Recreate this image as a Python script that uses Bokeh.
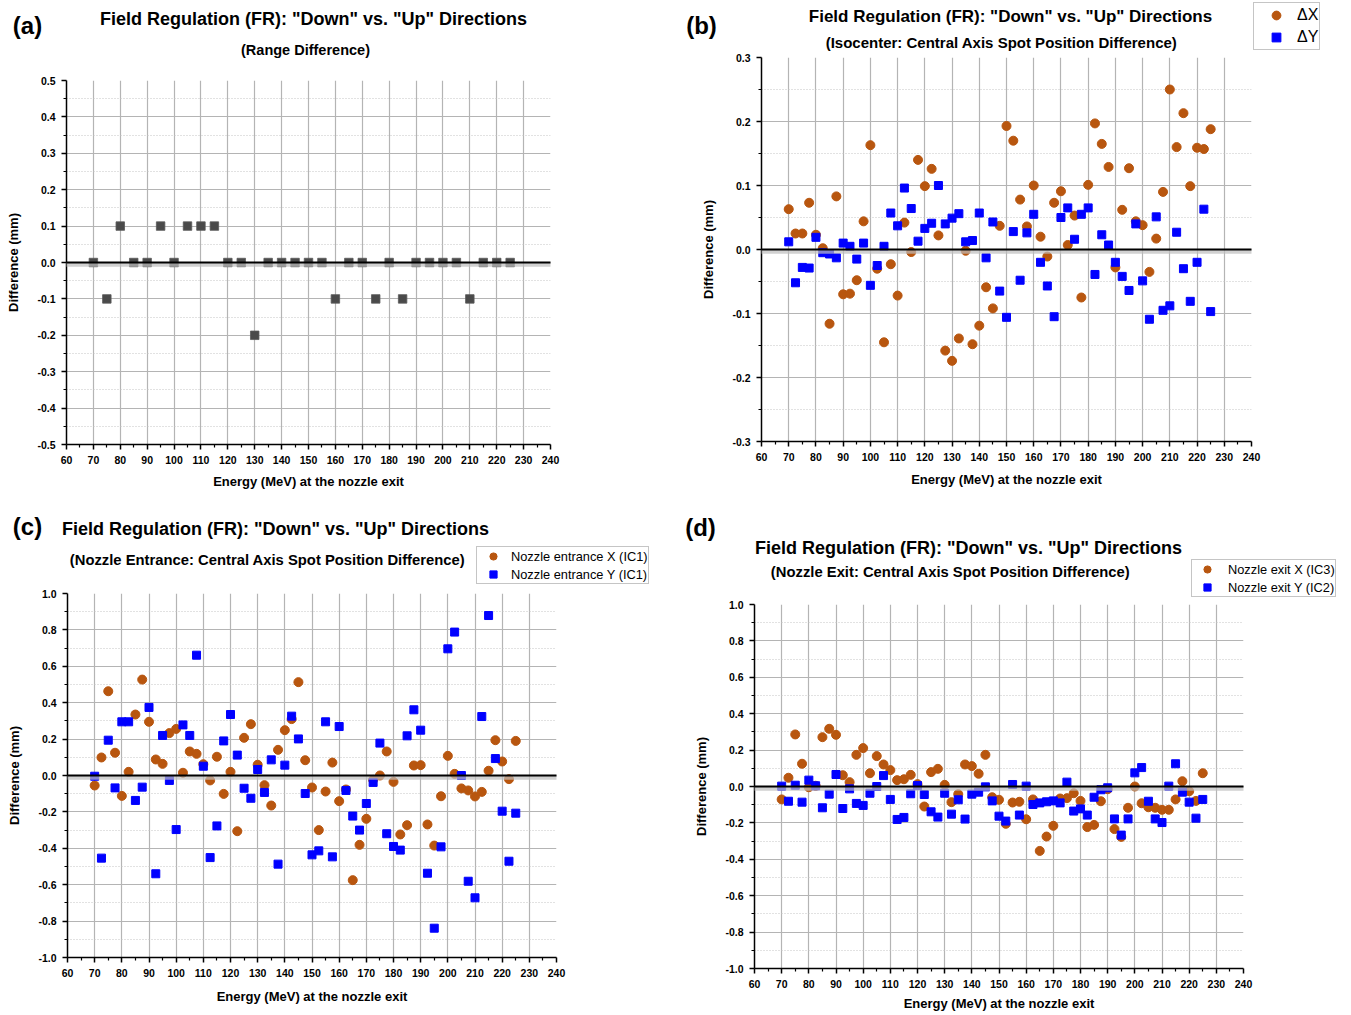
from bokeh.plotting import figure
from bokeh.layouts import column, row
from bokeh.models import (FixedTicker, PrintfTickFormatter, Label, Legend, LegendItem,
                          Arrow, Range1d, ColumnDataSource)
from bokeh.embed import file_html
from bokeh.resources import INLINE

# ---------------- data ----------------
range_energy = [70, 75, 80, 85, 90, 95, 100, 105, 110, 115, 120, 125, 130, 135, 140, 145,
                150, 155, 160, 165, 170, 175, 180, 185, 190, 195, 200, 205, 210, 215, 220, 225]
range_diff = [0.0, -0.1, 0.1, 0.0, 0.0, 0.1, 0.0, 0.1, 0.1, 0.1, 0.0, 0.0, -0.2, 0.0, 0.0, 0.0,
              0.0, 0.0, -0.1, 0.0, 0.0, -0.1, 0.0, -0.1, 0.0, 0.0, 0.0, 0.0, -0.1, 0.0, 0.0, 0.0]

energy = [70, 72.5, 75, 77.5, 80, 82.5, 85, 87.5, 90, 92.5, 95, 97.5, 100, 102.5, 105, 107.5,
          110, 112.5, 115, 117.5, 120, 122.5, 125, 127.5, 130, 132.5, 135, 137.5, 140, 142.5,
          145, 147.5, 150, 152.5, 155, 157.5, 160, 162.5, 165, 167.5, 170, 172.5, 175, 177.5,
          180, 182.5, 185, 187.5, 190, 192.5, 195, 197.5, 200, 202.5, 205, 207.5, 210, 212.5,
          215, 217.5, 220, 222.5, 225]

iso_dx = [0.063, 0.025, 0.025, 0.073, 0.023, 0.002, -0.116, 0.083, -0.070, -0.069, -0.048, 0.044,
          0.163, -0.030, -0.145, -0.023, -0.072, 0.042, -0.004, 0.140, 0.099, 0.126, 0.022, -0.158,
          -0.174, -0.139, -0.002, -0.148, -0.119, -0.059, -0.092, 0.037, 0.193, 0.170, 0.078, 0.036,
          0.100, 0.020, -0.011, 0.073, 0.091, 0.007, 0.053, -0.075, 0.101, 0.197, 0.165, 0.129,
          -0.028, 0.062, 0.127, 0.044, 0.038, -0.035, 0.017, 0.090, 0.250, 0.160, 0.213, 0.099,
          0.159, 0.157, 0.188]
iso_dy = [0.012, -0.052, -0.028, -0.029, 0.019, -0.005, -0.007, -0.013, 0.010, 0.005, -0.015, 0.010,
          -0.056, -0.025, 0.005, 0.057, 0.037, 0.096, 0.064, 0.013, 0.033, 0.041, 0.100, 0.040,
          0.049, 0.056, 0.012, 0.014, 0.057, -0.013, 0.043, -0.065, -0.106, 0.028, -0.048, 0.026,
          0.055, -0.020, -0.057, -0.105, 0.050, 0.065, 0.016, 0.055, 0.065, -0.039, 0.023, 0.007,
          -0.020, -0.042, -0.064, 0.040, -0.049, -0.109, 0.051, -0.095, -0.088, 0.027, -0.030,
          -0.081, -0.020, 0.063, -0.097]

ent_x = [-0.055, 0.099, 0.463, 0.125, -0.112, 0.020, 0.335, 0.527, 0.295, 0.088, 0.064, 0.233,
         0.256, 0.015, 0.132, 0.119, 0.062, -0.027, 0.103, -0.101, 0.020, -0.306, 0.207, 0.282,
         0.059, -0.053, -0.165, 0.141, 0.249, 0.310, 0.513, 0.084, -0.066, -0.300, -0.088, 0.071,
         -0.141, -0.077, -0.575, -0.381, -0.238, -0.024, 0.000, 0.132, -0.035, -0.324, -0.273,
         0.055, 0.057, -0.269, -0.385, -0.114, 0.108, 0.009, -0.071, -0.082, -0.115, -0.090,
         0.026, 0.194, 0.077, -0.020, 0.190]
ent_y = [-0.004, -0.454, 0.194, -0.068, 0.295, 0.295, -0.137, -0.064, 0.374, -0.540, 0.220, -0.027,
         -0.297, 0.278, 0.220, 0.661, 0.051, -0.451, -0.277, 0.190, 0.335, 0.112, -0.070, -0.125,
         0.033, -0.093, 0.086, -0.487, 0.057, 0.326, 0.201, -0.099, -0.436, -0.414, 0.295, -0.447,
         0.269, -0.082, -0.223, -0.300, -0.154, -0.038, 0.178, -0.320, -0.390, -0.410, 0.218,
         0.361, 0.249, -0.537, -0.839, -0.392, 0.696, 0.788, 0.000, -0.581, -0.672, 0.324, 0.879,
         0.093, -0.196, -0.471, -0.207]

exit_x = [-0.071, 0.048, 0.286, 0.125, -0.004, 0.004, 0.271, 0.317, 0.284, 0.062, 0.024, 0.174,
          0.211, 0.073, 0.167, 0.121, 0.090, 0.035, 0.040, 0.064, 0.013, -0.110, 0.079, 0.097,
          0.009, -0.086, -0.042, 0.121, 0.112, 0.070, 0.174, -0.059, -0.073, -0.205, -0.088,
          -0.084, -0.180, -0.071, -0.354, -0.275, -0.216, -0.066, -0.064, -0.037, -0.079, -0.223,
          -0.211, -0.081, -0.015, -0.234, -0.277, -0.117, 0.000, -0.092, -0.114, -0.117, -0.128,
          -0.128, -0.071, 0.029, -0.026, -0.079, 0.073]
exit_y = [0.002, -0.081, 0.007, -0.086, 0.035, 0.004, -0.117, -0.042, 0.066, -0.121, -0.013, -0.093,
          -0.104, -0.037, 0.000, 0.060, -0.071, -0.181, -0.170, -0.040, 0.005, -0.044, -0.139,
          -0.168, -0.037, -0.152, -0.073, -0.179, -0.042, -0.031, -0.002, -0.079, -0.163, -0.190,
          0.011, -0.157, 0.002, -0.099, -0.090, -0.084, -0.079, -0.090, 0.024, -0.135, -0.123,
          -0.157, -0.059, -0.018, -0.007, -0.178, -0.267, -0.178, 0.075, 0.104, -0.081, -0.178,
          -0.198, 0.002, 0.125, -0.031, -0.086, -0.174, -0.071]

x_major = [60, 70, 80, 90, 100, 110, 120, 130, 140, 150, 160, 170, 180, 190, 200, 210, 220, 230, 240]
x_minor = [65, 75, 85, 95, 105, 115, 125, 135, 145, 155, 165, 175, 185, 195, 205, 215, 225, 235]

TITLE = 'Field Regulation (FR): "Down" vs. "Up" Directions'
XLABEL = "Energy (MeV) at the nozzle exit"
YLABEL = "Difference (mm)"

ORANGE = "#B8560F"
BLUE = "#0000FF"
GRAY_MARK = "#4a4a4a"
FONT = "Liberation Sans"


def make_panel(w, h, bl, bt, fw, fh, ymin, ymax, ystep, yminor_step, ylab_standoff, xlab_standoff,
               zl_left, zl_right):
    p = figure(width=w, height=h, x_range=Range1d(60, 240), y_range=Range1d(ymin, ymax),
               output_backend="svg", toolbar_location=None,
               min_border_left=bl, min_border_top=bt,
               min_border_right=w - bl - fw, min_border_bottom=h - bt - fh)
    p.outline_line_color = None
    p.background_fill_color = "white"
    p.border_fill_color = "white"

    n = int(round((ymax - ymin) / ystep))
    y_major = [round(ymin + i * ystep, 3) for i in range(n + 1)]
    m = int(round((ymax - ymin) / yminor_step))
    y_minor = [round(ymin + i * yminor_step, 3) for i in range(m + 1)]
    y_minor = [v for v in y_minor if all(abs(v - t) > 1e-6 for t in y_major)]

    p.xaxis.ticker = FixedTicker(ticks=x_major, minor_ticks=x_minor)
    p.yaxis.ticker = FixedTicker(ticks=y_major, minor_ticks=y_minor)
    p.xaxis.formatter = PrintfTickFormatter(format="%d")
    p.yaxis.formatter = PrintfTickFormatter(format="%.1f")
    for ax in (p.xaxis, p.yaxis):
        ax.axis_line_color = "black"
        ax.axis_line_width = 1.5
        ax.major_tick_line_color = "black"
        ax.minor_tick_line_color = "black"
        ax.major_tick_line_width = 1.5
        ax.minor_tick_line_width = 1.2
        ax.major_tick_in = 0
        ax.major_tick_out = 5
        ax.minor_tick_in = 0
        ax.minor_tick_out = 3
        ax.major_label_text_font = FONT
        ax.major_label_text_font_style = "bold"
        ax.major_label_text_font_size = "10.5px"
        ax.major_label_text_color = "black"
        ax.major_label_standoff = 6
        ax.axis_label_text_font = FONT
        ax.axis_label_text_font_style = "bold"
        ax.axis_label_text_font_size = "13px"
        ax.axis_label_text_color = "black"
    p.xaxis.axis_label = XLABEL
    p.yaxis.axis_label = YLABEL
    p.xaxis.axis_label_standoff = xlab_standoff
    p.yaxis.axis_label_standoff = ylab_standoff

    p.xgrid.ticker = FixedTicker(ticks=x_major[1:-1])
    p.xgrid.grid_line_color = "#b4b4b4"
    p.xgrid.grid_line_width = 1.2
    p.ygrid.ticker = FixedTicker(ticks=y_major[1:-1], minor_ticks=y_minor)
    p.ygrid.grid_line_color = "#b4b4b4"
    p.ygrid.grid_line_width = 1.2
    p.ygrid.minor_grid_line_color = "#c4c4c4"
    p.ygrid.minor_grid_line_dash = "1 2"
    p.ygrid.minor_grid_line_width = 1

    # zero reference line with soft shadow (extends a little past the frame)
    px_x = 180.0 / fw
    px_y = (ymax - ymin) / fh
    x0 = 60 - zl_left * px_x
    x1 = 240 + zl_right * px_x
    p.add_layout(Arrow(end=None, start=None, x_start=x0, y_start=-2.2 * px_y, x_end=x1,
                       y_end=-2.2 * px_y, line_color="#bdbdbd", line_width=4, line_alpha=0.7))
    p.add_layout(Arrow(end=None, start=None, x_start=x0, y_start=0, x_end=x1, y_end=0,
                       line_color="black", line_width=2))
    return p


def make_header(w, h):
    # a text-only strip above each panel; its y range lies far above the data values,
    # so the legend proxy renderers (which reuse the panel's own data) draw nothing visible
    hp = figure(width=w, height=h, x_range=Range1d(0, w), y_range=Range1d(100, 100 + h),
                output_backend="svg", toolbar_location=None,
                x_axis_location=None, y_axis_location=None,
                min_border=0, min_border_left=0, min_border_right=0,
                min_border_top=0, min_border_bottom=0)
    hp.outline_line_color = None
    hp.background_fill_color = "white"
    hp.border_fill_color = "white"
    hp.grid.visible = False
    return hp


def add_text(p, x, y, text, size, bold=True):
    p.add_layout(Label(x=x, y=y, x_units="screen", y_units="screen", text=text,
                       text_align="center", text_baseline="middle", text_font=FONT,
                       text_font_style="bold" if bold else "normal",
                       text_font_size=size, text_color="black"))


def add_legend(hp, src, xcol, ycol, labels, loc, font_size, gw, gh, lh, standoff, padding, spacing):
    r1 = hp.scatter("x", xcol, source=src, marker="circle", size=9, fill_color=ORANGE,
                    line_color=ORANGE)
    r2 = hp.scatter("x", ycol, source=src, marker="square", size=8, fill_color=BLUE,
                    line_color=BLUE)
    lg = Legend(items=[LegendItem(label=labels[0], renderers=[r1]),
                       LegendItem(label=labels[1], renderers=[r2])], location=loc)
    lg.label_text_font = FONT
    lg.label_text_font_size = font_size
    lg.label_text_color = "black"
    lg.glyph_width = gw
    lg.glyph_height = gh
    lg.label_height = lh
    lg.label_standoff = standoff
    lg.padding = padding
    lg.spacing = spacing
    lg.margin = 0
    lg.border_line_color = "#8c8c8c"
    lg.border_line_width = 1.2
    lg.background_fill_color = "white"
    lg.background_fill_alpha = 1.0
    hp.add_layout(lg)


src_a = ColumnDataSource(dict(x=range_energy, y=range_diff))
src_b = ColumnDataSource(dict(x=energy, dx=iso_dx, dy=iso_dy))
src_c = ColumnDataSource(dict(x=energy, ex=ent_x, ey=ent_y))
src_d = ColumnDataSource(dict(x=energy, ex=exit_x, ey=exit_y))

# ---------------- panel (a) ----------------
ha = make_header(680, 70)
add_text(ha, 313, 52, TITLE, "18px")
add_text(ha, 305, 21, "(Range Difference)", "14.5px")
add_text(ha, 27, 45, "(a)", "24px")

pa = make_panel(680, 435, 66, 10, 484, 364, -0.5, 0.5, 0.1, 0.05, 13, 7, 9, 13)
pa.scatter("x", "y", source=src_a, marker="square", size=8.5, fill_color=GRAY_MARK,
           line_color="#5a5a5a", line_width=0.8)

# ---------------- panel (b) ----------------
hb = make_header(668, 51)
add_text(hb, 330, 35, TITLE, "17px")
add_text(hb, 321, 9, "(Isocenter: Central Axis Spot Position Difference)", "15px")
add_text(hb, 21, 26, "(b)", "24px")
add_legend(hb, src_b, "dx", "dy", ["ΔX", "ΔY"], (573, 1), "16px", 42, 22, 16, 0, 1, -2)

pb = make_panel(668, 454, 81, 6, 490, 384, -0.3, 0.3, 0.1, 0.05, 13, 8, 8, 6)
pb.scatter("x", "dx", source=src_b, marker="circle", size=9, fill_color=ORANGE, line_color=ORANGE)
pb.scatter("x", "dy", source=src_b, marker="square", size=8, fill_color=BLUE, line_color=BLUE)

# ---------------- panel (c) ----------------
hc = make_header(680, 80)
add_text(hc, 275, 57, TITLE, "18px")
add_text(hc, 267, 26, "(Nozzle Entrance: Central Axis Spot Position Difference)", "14.8px")
add_text(hc, 27, 59, "(c)", "24px")
add_legend(hc, src_c, "ex", "ey", ["Nozzle entrance X (IC1)", "Nozzle entrance Y (IC1)"],
           (476, 1), "12.8px", 32, 18, 13, 2, 0, -2)

pc = make_panel(680, 428, 67, 8, 489, 364, -1.0, 1.0, 0.2, 0.1, 13, 9, 8, 7)
pc.scatter("x", "ex", source=src_c, marker="circle", size=9, fill_color=ORANGE, line_color=ORANGE)
pc.scatter("x", "ey", source=src_c, marker="square", size=8, fill_color=BLUE, line_color=BLUE)

# ---------------- panel (d) ----------------
hd = make_header(668, 93)
add_text(hd, 288, 51, TITLE, "18px")
add_text(hd, 270, 27, "(Nozzle Exit: Central Axis Spot Position Difference)", "14.8px")
add_text(hd, 20, 71, "(d)", "24px")
add_legend(hd, src_d, "ex", "ey", ["Nozzle exit X (IC3)", "Nozzle exit Y (IC2)"],
           (511, 1), "12.8px", 30, 18, 13, 6, 0, -2)

pd_ = make_panel(668, 415, 74, 6, 489, 364, -1.0, 1.0, 0.2, 0.1, 13, 5, 11, 3)
pd_.scatter("x", "ex", source=src_d, marker="circle", size=9, fill_color=ORANGE, line_color=ORANGE)
pd_.scatter("x", "ey", source=src_d, marker="square", size=8, fill_color=BLUE, line_color=BLUE)

left_col = column(row(ha), row(pa), row(hc), row(pc))
right_col = column(row(hb), row(pb), row(hd), row(pd_))
layout = row(left_col, right_col)
open("out.html", "w").write(file_html(layout, INLINE))
